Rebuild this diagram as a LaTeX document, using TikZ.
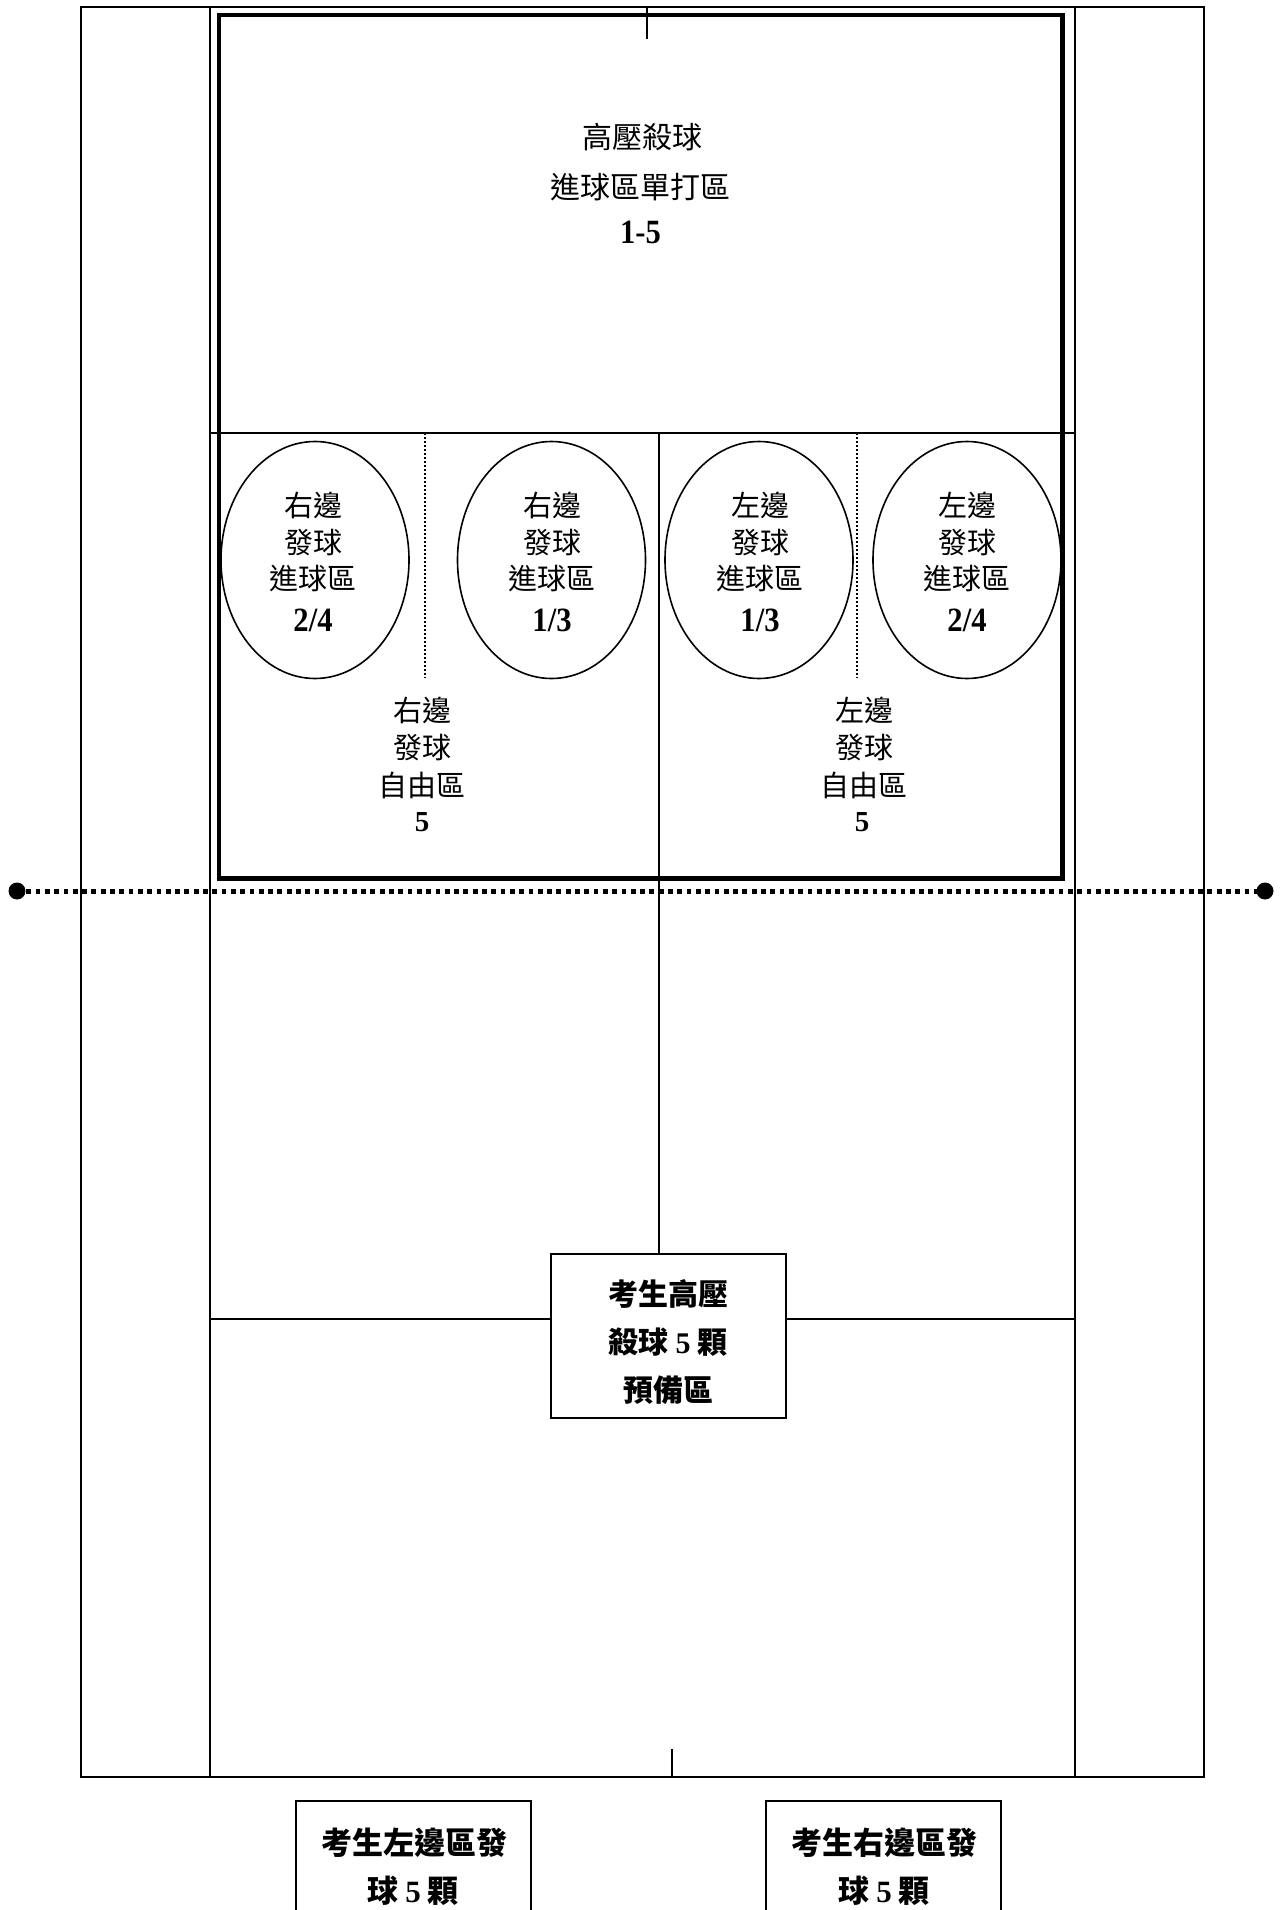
\documentclass[tikz,border=0pt]{standalone}
\usepackage{fontspec}
\usetikzlibrary{shapes.geometric}
\setmainfont{Liberation Serif}
\newfontfamily\cjk{Noto Sans CJK TC}
\newfontfamily\numbold{Liberation Serif}[UprightFont=* Bold]
\begin{document}
\begin{tikzpicture}[x={(0.5pt,0)},y={(0,-0.5pt)}]
\tikzset{
  thinline/.style={line width=0.75pt},
  thickline/.style={line width=2.35pt},
  netline/.style={line width=2.5pt, dash pattern=on 2.4pt off 2.25pt},
  fineline/.style={line width=0.6pt, dash pattern=on 1pt off 1pt},
  zone/.style={line width=0.8pt, ellipse, draw, minimum width=94pt, minimum height=118.5pt, inner sep=0pt},
  zh/.style={font=\cjk\fontsize{14.5}{17}\selectfont, inner sep=0pt},
  zhtop/.style={font=\cjk\fontsize{15}{18}\selectfont, inner sep=0pt},
  zhb/.style={font=\cjk\bfseries\fontsize{15}{18}\selectfont, inner sep=0pt},
  zhbb/.style={font=\cjk\bfseries\fontsize{15.5}{18}\selectfont, inner sep=0pt},
  num/.style={font=\bfseries\fontsize{17}{20}\selectfont, inner sep=0pt},
  numsmall/.style={font=\bfseries\fontsize{14.5}{17}\selectfont, inner sep=0pt},
  boxline/.style={line width=1pt},
}
\useasboundingbox (0,0) rectangle (1282,1910);
\fill[white] (0,0) rectangle (1282,1910);
% court
\draw[thinline] (81,7) rectangle (1204,1777);
\draw[thinline] (210,7) -- (210,1777);
\draw[thinline] (1075,7) -- (1075,1777);
\draw[thinline] (647,7) -- (647,39);
\draw[thinline] (210,433) -- (1075,433);
\draw[thinline] (659,433) -- (659,1254);
\draw[thinline] (210,1319) -- (1075,1319);
\draw[thinline] (672,1749) -- (672,1777);
\draw[fineline] (425,433) -- (425,678);
\draw[fineline] (857,433) -- (857,678);
\draw[thickline] (219,15) rectangle (1062.5,878.5);
% net
\coordinate (netL) at (17,891);
\coordinate (netR) at (1265,891);
\draw[netline] (netL) -- (netR);
\fill (netL) circle[radius=4.25pt];
\fill (netR) circle[radius=4.25pt];
% ellipses
\node[zone] (e1) at (315,560) {};
\node[zone] (e2) at (551.5,560) {};
\node[zone] (e3) at (759,560) {};
\node[zone] (e4) at (967,560) {};
% top text
\node[zhtop] (t1) at (642,137.5) {高壓殺球};
\node[zhtop] (t2) at (640,187) {進球區單打區};
\node[num] (t3) at (640.5,232) {\scalebox{0.9}[1]{1-5}};
% ellipse texts
\node[zh] (a1) at (313,505) {右邊};
\node[zh] (a2) at (313,543) {發球};
\node[zh] (a3) at (313,579) {進球區};
\node[num] (a4) at (313,620) {\scalebox{0.9}[1]{2/4}};
\node[zh] (b1) at (552,505) {右邊};
\node[zh] (b2) at (552,543) {發球};
\node[zh] (b3) at (552,579) {進球區};
\node[num] (b4) at (552,620) {\scalebox{0.9}[1]{1/3}};
\node[zh] (c1) at (760,505) {左邊};
\node[zh] (c2) at (760,543) {發球};
\node[zh] (c3) at (760,579) {進球區};
\node[num] (c4) at (760,620) {\scalebox{0.9}[1]{1/3}};
\node[zh] (d1) at (967,505) {左邊};
\node[zh] (d2) at (967,543) {發球};
\node[zh] (d3) at (967,579) {進球區};
\node[num] (d4) at (967,620) {\scalebox{0.9}[1]{2/4}};
% free zones
\node[zh] (f1) at (422,710) {右邊};
\node[zh] (f2) at (422,748) {發球};
\node[zh] (f3) at (422,785) {自由區};
\node[numsmall] (f4) at (422,822) {5};
\node[zh] (g1) at (864,710) {左邊};
\node[zh] (g2) at (864,748) {發球};
\node[zh] (g3) at (864,785) {自由區};
\node[numsmall] (g4) at (862,822) {5};
% centre box
\filldraw[boxline, fill=white] (551,1254) rectangle (786,1418);
\node[zhb] (m1) at (668,1294) {考生高壓};
\node[zhb] (m2) at (668,1342) {殺球 {\numbold 5} 顆};
\node[zhb] (m3) at (668,1390) {預備區};
% lower boxes
\draw[boxline] (296,1915) -- (296,1801) -- (531,1801) -- (531,1915);
\draw[boxline] (766,1915) -- (766,1801) -- (1001,1801) -- (1001,1915);
\node[zhbb] (l1) at (414,1843) {考生左邊區發};
\node[zhbb] (l2) at (413,1891) {球 {\numbold 5} 顆};
\node[zhbb] (r1) at (884,1843) {考生右邊區發};
\node[zhbb] (r2) at (884,1891) {球 {\numbold 5} 顆};
\end{tikzpicture}
\end{document}
